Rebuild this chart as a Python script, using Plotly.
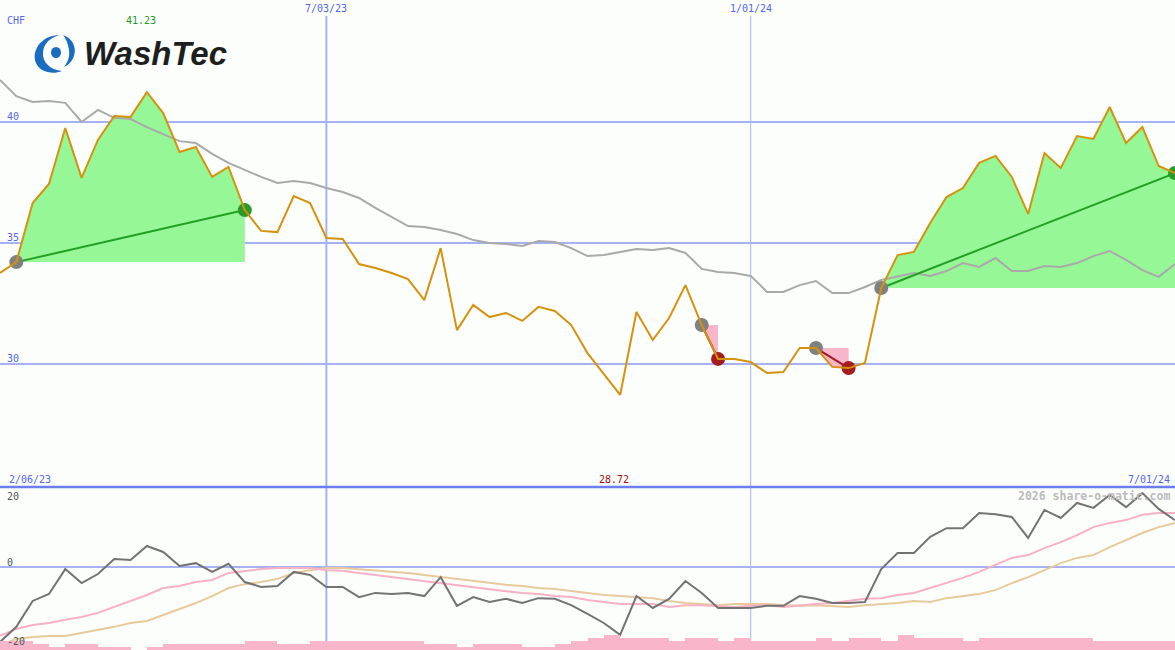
import plotly.graph_objects as go
import pandas as pd

W, H = 1175, 650

# ---------------- data (weekly, Mondays) ----------------
dates = pd.date_range("2023-02-13", periods=73, freq="7D")

price = [33.76,
         34.21, 36.65, 37.44, 39.75, 37.69, 39.26, 40.25, 40.21, 41.23, 40.37,
         38.76, 38.97, 37.73, 38.14, 36.36, 35.50, 35.45, 36.94, 36.65, 35.21,
         35.17, 34.13, 33.97, 33.76, 33.51, 32.64, 34.79, 31.40, 32.44, 31.94,
         32.11, 31.78, 32.36, 32.19, 31.61, 30.45, 29.59, 28.72, 32.15, 30.99,
         31.90, 33.26, 31.61, 30.21, 30.21, 30.08, 29.63, 29.67, 30.66, 30.66,
         29.88, 29.83, 30.04, 33.14, 34.50, 34.63, 35.83, 36.90, 37.27, 38.31,
         38.60, 37.73, 36.20, 38.72, 38.10, 39.42, 39.30, 40.62, 39.13, 39.79,
         38.18, 37.89]

avg = [41.74,
       41.07, 40.83, 40.87, 40.79, 40.00, 40.50, 40.17, 40.12, 39.79, 39.50,
       39.21, 39.13, 38.68, 38.31, 38.02, 37.73, 37.48, 37.56, 37.48, 37.27,
       37.11, 36.86, 36.45, 36.07, 35.70, 35.66, 35.54, 35.37, 35.12, 35.00,
       34.96, 34.88, 35.08, 35.04, 34.79, 34.46, 34.50, 34.63, 34.75, 34.71,
       34.79, 34.59, 33.93, 33.80, 33.76, 33.64, 32.98, 32.98, 33.26, 33.43,
       32.93, 32.93, 33.18, 33.47, 33.60, 33.76, 33.64, 33.84, 34.17, 34.01,
       34.38, 33.84, 33.84, 34.05, 34.01, 34.17, 34.46, 34.67, 34.30, 33.88,
       33.60, 34.13]

momentum = [-21.4,
            -17.1, -9.7, -7.7, -0.6, -4.6, -2.0, 2.3, 2.0, 6.0, 4.3,
            0.3, 1.1, -1.4, 0.9, -4.3, -5.7, -5.4, -1.4, -2.3, -5.7,
            -5.7, -8.6, -7.4, -7.7, -7.4, -8.3, -2.9, -11.1, -8.6, -10.0,
            -9.1, -10.3, -8.9, -9.1, -10.9, -13.4, -16.0, -19.4, -8.3, -11.7,
            -9.1, -4.0, -7.4, -11.7, -11.7, -11.7, -11.1, -11.1, -8.3, -9.1,
            -10.3, -10.3, -10.0, -0.6, 4.0, 4.0, 8.6, 11.1, 11.1, 15.4,
            15.1, 14.3, 8.3, 16.3, 14.0, 18.3, 16.9, 20.6, 17.1, 21.1,
            16.6, 13.4]

signal_fast = [-19.7,
               -17.7, -16.6, -16.0, -15.1, -14.3, -13.1, -11.4, -9.7, -8.0, -6.0,
               -5.4, -4.3, -3.7, -1.7, -1.1, -0.6, -0.3, -0.3, -0.3, -0.9,
               -1.1, -1.7, -2.3, -2.9, -3.4, -4.0, -4.6, -5.1, -5.7, -6.3,
               -6.9, -7.4, -7.7, -8.3, -8.6, -9.4, -10.0, -10.6, -10.6, -10.6,
               -11.4, -10.9, -10.9, -11.1, -11.4, -11.1, -10.9, -11.4, -10.9, -10.6,
               -10.3, -9.7, -9.1, -8.9, -8.0, -7.4, -6.0, -4.6, -3.1, -1.4,
               0.6, 2.6, 3.4, 5.4, 7.1, 9.1, 11.4, 12.6, 13.4, 14.9,
               15.4, 15.4]

signal_slow = [-22.3,
               -20.6, -20.0, -19.7, -19.7, -18.9, -18.0, -17.1, -16.0, -15.4, -13.7,
               -12.0, -10.3, -8.3, -6.0, -4.9, -4.3, -3.4, -1.7, -0.9, -0.3,
               -0.3, -0.6, -0.9, -1.4, -1.7, -2.3, -2.9, -3.4, -4.0, -4.6,
               -5.1, -5.4, -6.0, -6.3, -6.9, -7.4, -8.0, -8.3, -8.6, -8.9,
               -9.7, -10.3, -10.6, -10.9, -10.6, -10.6, -10.6, -10.9, -11.1, -10.9,
               -11.1, -11.4, -10.9, -10.6, -10.3, -9.7, -10.0, -8.9, -8.3, -7.7,
               -6.6, -4.6, -2.9, -0.9, 1.1, 2.6, 3.4, 5.7, 7.7, 9.7,
               11.4, 12.6]

volume = [3,
          3, 2, 1, 2, 2, 1, 1, 0, 1, 2,
          2, 2, 2, 2, 3, 3, 2, 2, 3, 3,
          3, 3, 3, 3, 3, 2, 2, 1, 2, 2,
          2, 1, 1, 2, 3, 4, 5, 4, 4, 4,
          3, 4, 4, 3, 4, 3, 3, 3, 3, 4,
          3, 4, 4, 3, 5, 4, 4, 4, 3, 4,
          4, 4, 4, 4, 4, 4, 3, 3, 3, 3,
          3, 3]

# start / end indices of detected moves
rises = [(1, 15), (54, 72)]
falls = [(43, 44), (50, 52)]

price_ticks = [30, 35, 40]
osc_ticks = [20, 0, -20]
top_dates = ["2023-07-03", "2024-01-01"]
top_labels = ["7/03/23", "1/01/24"]
start_label, end_label = "2/06/23", "7/01/24"
currency = "CHF"
watermark = "2026 share-o-matic.com"

for arr in (price, avg, momentum, signal_fast, signal_slow, volume):
    assert len(arr) == len(dates), len(arr)

# ---------------- styling ----------------
BG = "#fcfefc"
GRID = "#a6b2f4"
BLUE_TXT = "#5566ee"
ORANGE = "#d4920e"
MA_GREY = "#a9a9a9"
GREEN_FILL = "#96f796"
GREEN_LINE = "#23a023"
GREEN_DOT = "#2a9a2a"
PINK_FILL = "#f9b5ca"
RED_LINE = "#a01820"
RED_DOT = "#a51c1c"
GREY_DOT = "#808080"
MONO = "DejaVu Sans Mono"

low_h = 163  # px height of lower panel
dom_split = low_h / H

def px(x):
    return x / W

def py(y):
    return 1 - y / H

fig = go.Figure()

# shaded moves
for s, e in rises:
    xs = [dates[s]] + list(dates[s:e + 1]) + [dates[e]]
    ys = [price[s]] + price[s:e + 1] + [price[s]]
    fig.add_trace(go.Scatter(x=xs, y=ys, fill="toself", fillcolor=GREEN_FILL,
                             line=dict(width=0), mode="lines", hoverinfo="skip"))
for s, e in falls:
    xs = list(dates[s:e + 1]) + [dates[e], dates[s]]
    ys = price[s:e + 1] + [price[s], price[s]]
    fig.add_trace(go.Scatter(x=xs, y=ys, fill="toself", fillcolor=PINK_FILL,
                             line=dict(width=0), mode="lines", hoverinfo="skip"))

# moving average
fig.add_trace(go.Scatter(x=dates, y=avg, mode="lines",
                         line=dict(color=MA_GREY, width=2)))

# trend lines
for s, e in rises:
    fig.add_trace(go.Scatter(x=[dates[s], dates[e]], y=[price[s], price[e]], mode="lines",
                             line=dict(color=GREEN_LINE, width=2)))
for s, e in falls:
    fig.add_trace(go.Scatter(x=[dates[s], dates[e]], y=[price[s], price[e]], mode="lines",
                             line=dict(color=RED_LINE, width=2)))

# markers
starts = [s for s, e in rises + falls]
fig.add_trace(go.Scatter(x=[dates[i] for i in starts], y=[price[i] for i in starts],
                         mode="markers", marker=dict(color=GREY_DOT, size=14, line=dict(width=0))))
fig.add_trace(go.Scatter(x=[dates[e] for s, e in rises], y=[price[e] for s, e in rises],
                         mode="markers", marker=dict(color=GREEN_DOT, size=14, line=dict(width=0))))
fig.add_trace(go.Scatter(x=[dates[e] for s, e in falls], y=[price[e] for s, e in falls],
                         mode="markers", marker=dict(color=RED_DOT, size=14, line=dict(width=0))))

# price
fig.add_trace(go.Scatter(x=dates, y=price, mode="lines",
                         line=dict(color=ORANGE, width=2)))

# lower panel
fig.add_trace(go.Bar(x=dates, y=volume, xaxis="x2", yaxis="y3",
                     marker=dict(color=PINK_FILL, line=dict(width=0)),
                     width=7 * 86400000, offset=0))
fig.add_trace(go.Scatter(x=dates, y=signal_slow, xaxis="x2", yaxis="y2", mode="lines",
                         line=dict(color="#e6ca9c", width=2)))
fig.add_trace(go.Scatter(x=dates, y=signal_fast, xaxis="x2", yaxis="y2", mode="lines",
                         line=dict(color="#f8b0c4", width=2)))
fig.add_trace(go.Scatter(x=dates, y=momentum, xaxis="x2", yaxis="y2", mode="lines",
                         line=dict(color="#737373", width=2)))

xr = ["2023-02-13", "2024-07-01"]
main_lo = 40 - (487 - 122) / 24.2
main_hi = 40 + 122 / 24.2
osc_lo = -(650 - 567) / 3.5
osc_hi = (567 - 487) / 3.5

fig.update_layout(
    width=W, height=H, margin=dict(l=0, r=0, t=0, b=0),
    paper_bgcolor=BG, plot_bgcolor=BG, showlegend=False, bargap=0,
    xaxis=dict(type="date", range=xr, visible=False, anchor="y"),
    xaxis2=dict(type="date", range=xr, matches="x", visible=False, anchor="y2"),
    yaxis=dict(domain=[dom_split, 1], range=[main_lo, main_hi], tickvals=price_ticks,
               showgrid=True, gridcolor=GRID, gridwidth=2, showticklabels=False,
               zeroline=False, showline=False, ticks=""),
    yaxis2=dict(domain=[0, dom_split], range=[osc_lo, osc_hi], tickvals=[0],
                showgrid=True, gridcolor=GRID, gridwidth=2, showticklabels=False,
                zeroline=False, showline=False, ticks=""),
    yaxis3=dict(overlaying="y2", range=[0, low_h / 3], visible=False),
)

shapes = []
for d, w in zip(top_dates, [2, 1]):
    shapes.append(dict(type="line", xref="x", yref="paper", x0=d, x1=d,
                       y0=0, y1=py(16), line=dict(color=GRID, width=w), layer="below"))
shapes.append(dict(type="line", xref="paper", yref="paper", x0=0, x1=1,
                   y0=dom_split, y1=dom_split, line=dict(color="#6d7ef0", width=2.5)))

# logo icon
def path(cmds):
    out = []
    for c in cmds:
        if isinstance(c, str):
            out.append(c)
        else:
            out.append(f"{px(c[0]):.5f},{py(c[1]):.5f}")
    return " ".join(out)

LOGO_BLUE = "#1a6cc0"
shapes.append(dict(type="path", xref="paper", yref="paper", fillcolor=LOGO_BLUE,
                   line=dict(width=0),
                   path=path(["M", (60, 35), "C", (42, 35), (31, 50), (36, 63),
                              "C", (40, 72), (52, 75), (62, 71),
                              "C", (50, 70), (42, 62), (43, 52),
                              "C", (44, 43), (51, 37), (60, 35), "Z"])))
shapes.append(dict(type="path", xref="paper", yref="paper", fillcolor=LOGO_BLUE,
                   line=dict(width=0),
                   path=path(["M", (63, 35), "C", (72, 38), (77, 47), (74, 56),
                              "C", (72, 62), (68, 65), (64, 67),
                              "C", (68, 62), (70, 56), (69, 50),
                              "C", (68, 43), (66, 39), (63, 35), "Z"])))
shapes.append(dict(type="circle", xref="paper", yref="paper", fillcolor=LOGO_BLUE,
                   line=dict(width=0), x0=px(51), x1=px(61), y0=py(58), y1=py(47)))
fig.update_layout(shapes=shapes)

ann = []
def txt(text, x, y, color, xref="paper", yref="paper", xanchor="left", size=10,
        xshift=0, yshift=0, bold=False):
    ann.append(dict(text=f"<b>{text}</b>" if bold else text, x=x, y=y, xref=xref, yref=yref,
                    xanchor=xanchor, yanchor="middle", showarrow=False,
                    xshift=xshift, yshift=yshift,
                    font=dict(family=MONO, size=size, color=color)))

txt(currency, px(5), py(20), BLUE_TXT)
imax = price.index(max(price))
imin = price.index(min(price))
txt(f"{max(price):.2f}", dates[imax], py(20), "#229922", xref="x", xanchor="center", xshift=-6)
for d, lab in zip(top_dates, top_labels):
    txt(lab, d, py(8), BLUE_TXT, xref="x", xanchor="center")
for v in price_ticks:
    txt(str(v), px(5), v, BLUE_TXT, yref="y", yshift=6)
txt(start_label, px(7), py(479), BLUE_TXT)
txt(f"{min(price):.2f}", dates[imin], py(479), "#a01010", xref="x", xanchor="center", xshift=-6)
txt(end_label, px(1172), py(479), BLUE_TXT, xanchor="right")
for v, sh in zip(osc_ticks, [1, 5, -4]):
    txt(str(v), px(5), v, "#555555", yref="y2", yshift=sh)
txt(watermark, px(1172), py(496), "#bbbbbb", xanchor="right", size=11.5, bold=True)

ann.append(dict(text="<b><i>WashTec</i></b>", x=px(82), y=py(54), xref="paper", yref="paper",
                xanchor="left", yanchor="middle", showarrow=False,
                font=dict(family="Liberation Sans", size=33, color="#1e1e1e")))
fig.update_layout(annotations=ann)

fig.write_html("out.html", config={"displayModeBar": False},
               post_script="document.body.style.margin='0';document.body.style.overflow='hidden';")
